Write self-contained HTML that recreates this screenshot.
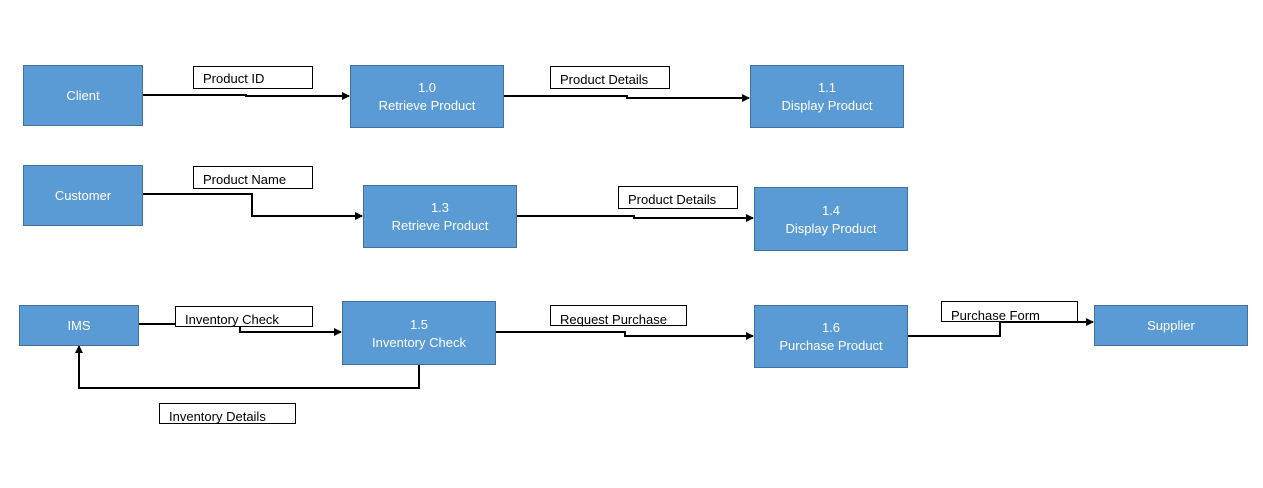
<!DOCTYPE html>
<html><head><meta charset="utf-8"><style>
html,body{margin:0;padding:0;background:#fff;}
svg{display:block;}
.b{fill:#5b9bd5;stroke:#41719c;stroke-width:1;}
.bt{fill:#fff;font-family:"Liberation Sans",sans-serif;font-size:13px;text-anchor:middle;}
.l{fill:#fff;stroke:#000;stroke-width:1;}
.lt{fill:#000;font-family:"Liberation Sans",sans-serif;font-size:13px;}
.c{fill:none;stroke:#000;stroke-width:2;}
</style></head><body>
<svg width="1263" height="488" viewBox="0 0 1263 488" xmlns="http://www.w3.org/2000/svg">
<defs><marker id="a" markerWidth="8" markerHeight="8" refX="7" refY="4" orient="auto" markerUnits="userSpaceOnUse"><path d="M0,0 L8,4 L0,8 z" fill="#000"/></marker></defs>
<!-- connectors -->
<path class="c" marker-end="url(#a)" d="M142,95 H246 V96 H349"/>
<path class="c" marker-end="url(#a)" d="M503,96 H627 V98 H749"/>
<path class="c" marker-end="url(#a)" d="M142,194 H252 V216 H362"/>
<path class="c" marker-end="url(#a)" d="M516,216 H634 V218 H753"/>
<path class="c" marker-end="url(#a)" d="M138,324 H240 V332 H341"/>
<path class="c" marker-end="url(#a)" d="M495,332 H625 V336 H753"/>
<path class="c" marker-end="url(#a)" d="M907,336 H1000 V322 H1093"/>
<path class="c" marker-end="url(#a)" d="M419,364 V388 H79 V346"/>
<!-- labels -->
<rect class="l" x="193.5" y="66.5" width="119" height="22"/><text class="lt" x="203" y="83">Product ID</text>
<rect class="l" x="550.5" y="66.5" width="119" height="22"/><text class="lt" x="560" y="84">Product Details</text>
<rect class="l" x="193.5" y="166.5" width="119" height="22"/><text class="lt" x="203" y="184">Product Name</text>
<rect class="l" x="618.5" y="186.5" width="119" height="22"/><text class="lt" x="628" y="204">Product Details</text>
<rect class="l" x="175.5" y="306.5" width="137" height="20"/><text class="lt" x="185" y="324">Inventory Check</text>
<rect class="l" x="550.5" y="305.5" width="136" height="20"/><text class="lt" x="560" y="324">Request Purchase</text>
<rect class="l" x="941.5" y="301.5" width="136" height="20"/><text class="lt" x="951" y="320">Purchase Form</text>
<rect class="l" x="159.5" y="403.5" width="136" height="20"/><text class="lt" x="169" y="421">Inventory Details</text>
<!-- boxes -->
<rect class="b" x="23.5" y="65.5" width="119" height="60"/><text class="bt" x="83" y="100">Client</text>
<rect class="b" x="350.5" y="65.5" width="153" height="62"/><text class="bt" x="427" y="92">1.0</text><text class="bt" x="427" y="110">Retrieve Product</text>
<rect class="b" x="750.5" y="65.5" width="153" height="62"/><text class="bt" x="827" y="92">1.1</text><text class="bt" x="827" y="110">Display Product</text>
<rect class="b" x="23.5" y="165.5" width="119" height="60"/><text class="bt" x="83" y="200">Customer</text>
<rect class="b" x="363.5" y="185.5" width="153" height="62"/><text class="bt" x="440" y="212">1.3</text><text class="bt" x="440" y="230">Retrieve Product</text>
<rect class="b" x="754.5" y="187.5" width="153" height="63"/><text class="bt" x="831" y="215">1.4</text><text class="bt" x="831" y="233">Display Product</text>
<rect class="b" x="19.5" y="305.5" width="119" height="40"/><text class="bt" x="79" y="330">IMS</text>
<rect class="b" x="342.5" y="301.5" width="153" height="63"/><text class="bt" x="419" y="329">1.5</text><text class="bt" x="419" y="347">Inventory Check</text>
<rect class="b" x="754.5" y="305.5" width="153" height="62"/><text class="bt" x="831" y="332">1.6</text><text class="bt" x="831" y="350">Purchase Product</text>
<rect class="b" x="1094.5" y="305.5" width="153" height="40"/><text class="bt" x="1171" y="330">Supplier</text>
</svg>
</body></html>
